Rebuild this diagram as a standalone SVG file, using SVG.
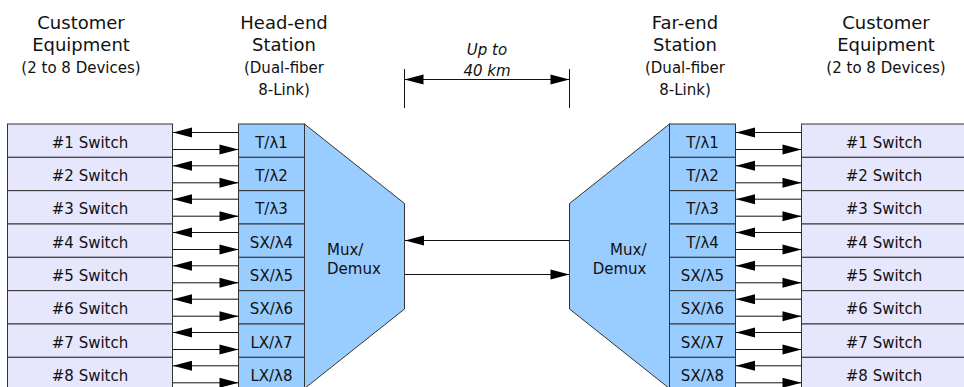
<svg xmlns="http://www.w3.org/2000/svg" width="964" height="387" viewBox="0 0 964 387">
<style>
.sw{fill:#e6e6fc;stroke:#333;stroke-width:1}
.ch{fill:#99ccff;stroke:#333;stroke-width:1}
.mux{fill:#99ccff;stroke:#333;stroke-width:1}
.t{font-family:"DejaVu Sans",Verdana,sans-serif;font-size:15px;fill:#111;text-anchor:middle}
.h{font-family:"DejaVu Sans",Verdana,sans-serif;font-size:18px;fill:#111;text-anchor:middle}
.s{font-family:"DejaVu Sans",Verdana,sans-serif;font-size:15px;fill:#111;text-anchor:middle}
.i{font-family:"DejaVu Sans",Verdana,sans-serif;font-size:15px;font-style:italic;fill:#111;text-anchor:middle}
.c line{stroke:#111;stroke-width:1}
.tick{stroke:#111;stroke-width:1}
</style>
<defs>
<marker id="ah" markerWidth="19" markerHeight="11" markerUnits="userSpaceOnUse" refX="19" refY="5.5" orient="auto-start-reverse" overflow="visible">
<path d="M0,0.5 L19,5.5 L0,10.5 z" fill="#000"/>
</marker>
</defs>

<g id="headers">
<text class="h" x="81" y="29">Customer</text>
<text class="h" x="81" y="51">Equipment</text>
<text class="s" x="81" y="72.5">(2 to 8 Devices)</text>
<text class="h" x="284" y="29">Head-end</text>
<text class="h" x="284" y="51">Station</text>
<text class="s" x="284" y="72.5">(Dual-fiber</text>
<text class="s" x="284" y="94.5">8-Link)</text>
<text class="h" x="685" y="29">Far-end</text>
<text class="h" x="685" y="51">Station</text>
<text class="s" x="685" y="72.5">(Dual-fiber</text>
<text class="s" x="685" y="94.5">8-Link)</text>
<text class="h" x="886" y="29">Customer</text>
<text class="h" x="886" y="51">Equipment</text>
<text class="s" x="886" y="72.5">(2 to 8 Devices)</text>
</g>

<g id="distance">
<line class="tick" x1="404.5" y1="69" x2="404.5" y2="108"/>
<line class="tick" x1="569.5" y1="69" x2="569.5" y2="108"/>
<line x1="404.5" y1="79.5" x2="569.5" y2="79.5" stroke="#111" stroke-width="1" marker-start="url(#ah)" marker-end="url(#ah)"/>
<text class="i" x="487" y="55">Up to</text>
<text class="i" x="487" y="76">40 km</text>
</g>

<g id="head-mux">
<polygon class="mux" points="304.5,124 404.5,203.5 404.5,309 304.5,388.5"/>
<text class="t" x="327" y="255" style="text-anchor:start">Mux/</text>
<text class="t" x="327" y="273.5" style="text-anchor:start">Demux</text>
</g>
<g id="far-mux">
<polygon class="mux" points="669.5,124 569.5,203.5 569.5,309 669.5,388.5"/>
<text class="t" x="646.5" y="254.5" style="text-anchor:end">Mux/</text>
<text class="t" x="646.5" y="273.5" style="text-anchor:end">Demux</text>
</g>

<g id="left-switches">
<g id="ls1"><rect class="sw" x="7.5" y="124" width="165" height="33.33"/><text class="t" x="90" y="147.5">#1 Switch</text></g>
<g id="ls2"><rect class="sw" x="7.5" y="157.33" width="165" height="33.33"/><text class="t" x="90" y="180.8">#2 Switch</text></g>
<g id="ls3"><rect class="sw" x="7.5" y="190.67" width="165" height="33.33"/><text class="t" x="90" y="214.2">#3 Switch</text></g>
<g id="ls4"><rect class="sw" x="7.5" y="224" width="165" height="33.33"/><text class="t" x="90" y="247.5">#4 Switch</text></g>
<g id="ls5"><rect class="sw" x="7.5" y="257.33" width="165" height="33.33"/><text class="t" x="90" y="280.8">#5 Switch</text></g>
<g id="ls6"><rect class="sw" x="7.5" y="290.67" width="165" height="33.33"/><text class="t" x="90" y="314.2">#6 Switch</text></g>
<g id="ls7"><rect class="sw" x="7.5" y="324" width="165" height="33.33"/><text class="t" x="90" y="347.5">#7 Switch</text></g>
<g id="ls8"><rect class="sw" x="7.5" y="357.33" width="165" height="33.33"/><text class="t" x="90" y="380.8">#8 Switch</text></g>
</g>

<g id="head-channels">
<g id="hc1"><rect class="ch" x="238.5" y="124" width="66" height="33.33"/><text class="t" x="271.5" y="147.5">T/λ1</text></g>
<g id="hc2"><rect class="ch" x="238.5" y="157.33" width="66" height="33.33"/><text class="t" x="271.5" y="180.8">T/λ2</text></g>
<g id="hc3"><rect class="ch" x="238.5" y="190.67" width="66" height="33.33"/><text class="t" x="271.5" y="214.2">T/λ3</text></g>
<g id="hc4"><rect class="ch" x="238.5" y="224" width="66" height="33.33"/><text class="t" x="271.5" y="247.5">SX/λ4</text></g>
<g id="hc5"><rect class="ch" x="238.5" y="257.33" width="66" height="33.33"/><text class="t" x="271.5" y="280.8">SX/λ5</text></g>
<g id="hc6"><rect class="ch" x="238.5" y="290.67" width="66" height="33.33"/><text class="t" x="271.5" y="314.2">SX/λ6</text></g>
<g id="hc7"><rect class="ch" x="238.5" y="324" width="66" height="33.33"/><text class="t" x="271.5" y="347.5">LX/λ7</text></g>
<g id="hc8"><rect class="ch" x="238.5" y="357.33" width="66" height="33.33"/><text class="t" x="271.5" y="380.8">LX/λ8</text></g>
</g>

<g id="far-channels">
<g id="fc1"><rect class="ch" x="669.5" y="124" width="66" height="33.33"/><text class="t" x="702.5" y="147.5">T/λ1</text></g>
<g id="fc2"><rect class="ch" x="669.5" y="157.33" width="66" height="33.33"/><text class="t" x="702.5" y="180.8">T/λ2</text></g>
<g id="fc3"><rect class="ch" x="669.5" y="190.67" width="66" height="33.33"/><text class="t" x="702.5" y="214.2">T/λ3</text></g>
<g id="fc4"><rect class="ch" x="669.5" y="224" width="66" height="33.33"/><text class="t" x="702.5" y="247.5">T/λ4</text></g>
<g id="fc5"><rect class="ch" x="669.5" y="257.33" width="66" height="33.33"/><text class="t" x="702.5" y="280.8">SX/λ5</text></g>
<g id="fc6"><rect class="ch" x="669.5" y="290.67" width="66" height="33.33"/><text class="t" x="702.5" y="314.2">SX/λ6</text></g>
<g id="fc7"><rect class="ch" x="669.5" y="324" width="66" height="33.33"/><text class="t" x="702.5" y="347.5">SX/λ7</text></g>
<g id="fc8"><rect class="ch" x="669.5" y="357.33" width="66" height="33.33"/><text class="t" x="702.5" y="380.8">SX/λ8</text></g>
</g>

<g id="right-switches">
<g id="rs1"><rect class="sw" x="801.5" y="124" width="165" height="33.33"/><text class="t" x="884" y="147.5">#1 Switch</text></g>
<g id="rs2"><rect class="sw" x="801.5" y="157.33" width="165" height="33.33"/><text class="t" x="884" y="180.8">#2 Switch</text></g>
<g id="rs3"><rect class="sw" x="801.5" y="190.67" width="165" height="33.33"/><text class="t" x="884" y="214.2">#3 Switch</text></g>
<g id="rs4"><rect class="sw" x="801.5" y="224" width="165" height="33.33"/><text class="t" x="884" y="247.5">#4 Switch</text></g>
<g id="rs5"><rect class="sw" x="801.5" y="257.33" width="165" height="33.33"/><text class="t" x="884" y="280.8">#5 Switch</text></g>
<g id="rs6"><rect class="sw" x="801.5" y="290.67" width="165" height="33.33"/><text class="t" x="884" y="314.2">#6 Switch</text></g>
<g id="rs7"><rect class="sw" x="801.5" y="324" width="165" height="33.33"/><text class="t" x="884" y="347.5">#7 Switch</text></g>
<g id="rs8"><rect class="sw" x="801.5" y="357.33" width="165" height="33.33"/><text class="t" x="884" y="380.8">#8 Switch</text></g>
</g>

<g id="connectors" class="c">
<line x1="238.5" y1="132.5" x2="173" y2="132.5" marker-end="url(#ah)"/><line x1="173" y1="149.5" x2="238.5" y2="149.5" marker-end="url(#ah)"/>
<line x1="238.5" y1="165.8" x2="173" y2="165.8" marker-end="url(#ah)"/><line x1="173" y1="182.8" x2="238.5" y2="182.8" marker-end="url(#ah)"/>
<line x1="238.5" y1="199.2" x2="173" y2="199.2" marker-end="url(#ah)"/><line x1="173" y1="216.2" x2="238.5" y2="216.2" marker-end="url(#ah)"/>
<line x1="238.5" y1="232.5" x2="173" y2="232.5" marker-end="url(#ah)"/><line x1="173" y1="249.5" x2="238.5" y2="249.5" marker-end="url(#ah)"/>
<line x1="238.5" y1="265.8" x2="173" y2="265.8" marker-end="url(#ah)"/><line x1="173" y1="282.8" x2="238.5" y2="282.8" marker-end="url(#ah)"/>
<line x1="238.5" y1="299.2" x2="173" y2="299.2" marker-end="url(#ah)"/><line x1="173" y1="316.2" x2="238.5" y2="316.2" marker-end="url(#ah)"/>
<line x1="238.5" y1="332.5" x2="173" y2="332.5" marker-end="url(#ah)"/><line x1="173" y1="349.5" x2="238.5" y2="349.5" marker-end="url(#ah)"/>
<line x1="238.5" y1="365.8" x2="173" y2="365.8" marker-end="url(#ah)"/><line x1="173" y1="382.8" x2="238.5" y2="382.8" marker-end="url(#ah)"/>

<line x1="801.5" y1="132.5" x2="736" y2="132.5" marker-end="url(#ah)"/><line x1="736" y1="149.5" x2="801.5" y2="149.5" marker-end="url(#ah)"/>
<line x1="801.5" y1="165.8" x2="736" y2="165.8" marker-end="url(#ah)"/><line x1="736" y1="182.8" x2="801.5" y2="182.8" marker-end="url(#ah)"/>
<line x1="801.5" y1="199.2" x2="736" y2="199.2" marker-end="url(#ah)"/><line x1="736" y1="216.2" x2="801.5" y2="216.2" marker-end="url(#ah)"/>
<line x1="801.5" y1="232.5" x2="736" y2="232.5" marker-end="url(#ah)"/><line x1="736" y1="249.5" x2="801.5" y2="249.5" marker-end="url(#ah)"/>
<line x1="801.5" y1="265.8" x2="736" y2="265.8" marker-end="url(#ah)"/><line x1="736" y1="282.8" x2="801.5" y2="282.8" marker-end="url(#ah)"/>
<line x1="801.5" y1="299.2" x2="736" y2="299.2" marker-end="url(#ah)"/><line x1="736" y1="316.2" x2="801.5" y2="316.2" marker-end="url(#ah)"/>
<line x1="801.5" y1="332.5" x2="736" y2="332.5" marker-end="url(#ah)"/><line x1="736" y1="349.5" x2="801.5" y2="349.5" marker-end="url(#ah)"/>
<line x1="801.5" y1="365.8" x2="736" y2="365.8" marker-end="url(#ah)"/><line x1="736" y1="382.8" x2="801.5" y2="382.8" marker-end="url(#ah)"/>

<line x1="569.5" y1="240.5" x2="405" y2="240.5" marker-end="url(#ah)"/>
<line x1="405" y1="274.5" x2="569.5" y2="274.5" marker-end="url(#ah)"/>
</g>
</svg>
